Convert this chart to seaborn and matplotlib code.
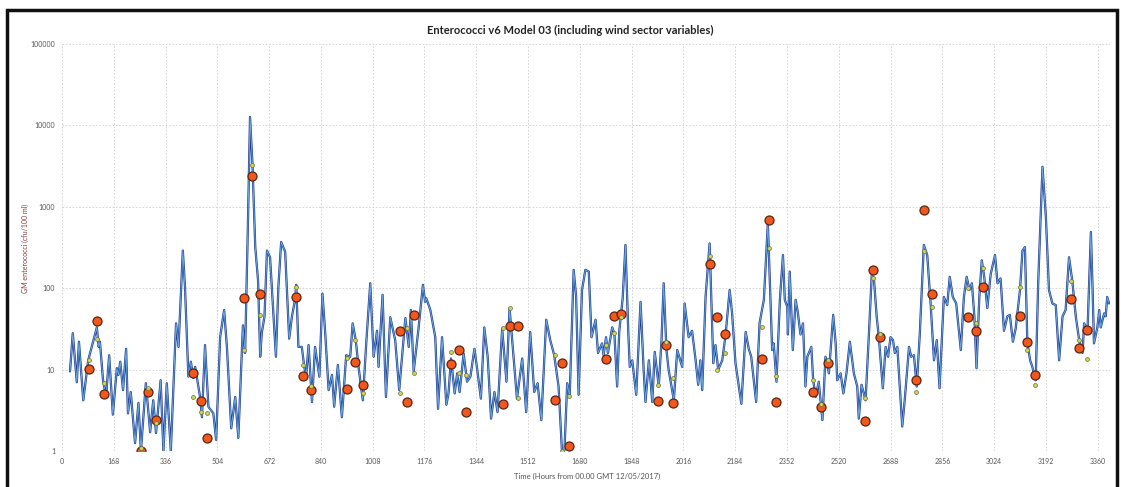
import matplotlib
matplotlib.use("Agg")
import matplotlib.pyplot as plt
from matplotlib.patches import Rectangle
from matplotlib.ticker import NullLocator
import pandas as pd
import seaborn as sns

# modelled GM enterococci (cfu/100 ml) at turning points
hours = [26, 35, 48, 55, 69, 85, 113, 119, 123, 133, 143, 153, 165, 178, 183, 189,
         198, 208, 214, 223, 237, 248, 256, 272, 286, 296, 305, 320, 329, 340, 353,
         370, 378, 392, 399, 410, 418, 426, 432, 448, 454, 464, 475, 491, 500, 513,
         526, 535, 549, 562, 572, 587, 594, 603, 610, 618, 627, 636, 643, 648, 657,
         665, 675, 683, 694, 702, 711, 724, 737, 746, 756, 760, 767, 778, 786, 792,
         800, 811, 821, 835, 845, 854, 865, 876, 883, 895, 908, 922, 935, 943, 953,
         962, 976, 987, 1000, 1011, 1022, 1027, 1040, 1051, 1065, 1081, 1094, 1114,
         1125, 1132, 1141, 1157, 1171, 1178, 1182, 1195, 1211, 1220, 1233, 1247, 1254,
         1262, 1274, 1282, 1290, 1303, 1314, 1325, 1338, 1346, 1359, 1370, 1381, 1392,
         1403, 1413, 1428, 1442, 1452, 1463, 1476, 1493, 1506, 1519, 1532, 1543, 1555,
         1571, 1584, 1597, 1611, 1622, 1630, 1639, 1647, 1660, 1668, 1676, 1687, 1698,
         1709, 1718, 1731, 1739, 1752, 1757, 1765, 1771, 1785, 1792, 1801, 1808, 1819,
         1828, 1837, 1842, 1850, 1863, 1877, 1887, 1893, 1904, 1915, 1923, 1936, 1945,
         1952, 1961, 1968, 1985, 1996, 2006, 2012, 2020, 2033, 2044, 2055, 2064, 2071,
         2077, 2088, 2101, 2113, 2120, 2129, 2142, 2153, 2166, 2174, 2185, 2204, 2218,
         2228, 2236, 2252, 2263, 2277, 2290, 2304, 2309, 2318, 2329, 2339, 2345, 2353,
         2355, 2361, 2371, 2380, 2387, 2396, 2404, 2412, 2418, 2431, 2437, 2445, 2455,
         2467, 2477, 2488, 2502, 2510, 2515, 2526, 2535, 2545, 2556, 2569, 2580, 2585,
         2594, 2607, 2618, 2627, 2634, 2643, 2650, 2663, 2672, 2680, 2688, 2696, 2702,
         2710, 2726, 2734, 2748, 2755, 2764, 2773, 2783, 2796, 2807, 2818, 2829, 2838,
         2847, 2861, 2872, 2880, 2890, 2901, 2916, 2926, 2935, 2944, 2952, 2960, 2967,
         2976, 2984, 2992, 3002, 3013, 3027, 3035, 3045, 3056, 3067, 3075, 3085, 3094,
         3108, 3116, 3124, 3132, 3141, 3148, 3159, 3167, 3181, 3192, 3202, 3213, 3224,
         3235, 3246, 3256, 3267, 3278, 3289, 3300, 3311, 3316, 3327, 3338, 3343, 3348,
         3359, 3365, 3370, 3381, 3386, 3391, 3397]
gm_model = [9.5, 28, 7, 22, 4.2, 13, 33, 19, 22, 7.5, 4.6, 15, 2.8, 10.4, 8.6, 12.5,
            5.6, 18, 2.9, 5.3, 1.25, 3.9, 1.0, 6.8, 1.7, 4.2, 1.66, 7.4, 1.0, 6.8, 1.0,
            37, 19, 290, 104, 8.2, 12.5, 7.9, 10.8, 4.6, 2.6, 20, 3.5, 2.9, 1.37, 25,
            54, 19, 1.9, 4.6, 1.45, 35, 16, 570, 12700, 3300, 320, 125, 14.4, 28, 45,
            290, 240, 72, 14.4, 104, 370, 280, 24, 45, 72, 110, 19, 19, 10.8, 8.2,
            20, 4.0, 19, 8.2, 86, 28, 5.6, 8.6, 3.5, 11.4, 2.6, 15, 14.4, 37, 23,
            10.8, 4.2, 21, 115, 14.4, 30, 10.8, 83, 4.6, 44, 23, 5.6, 43,
            19, 54, 9.5, 33, 110, 68, 75, 54, 25, 3.3, 25, 3.7, 5.1,
            13.7, 5.1, 9, 5.3, 15.8, 7.1, 8.2, 18, 10.8, 4.4, 33, 14.4, 2.5,
            5.3, 3.0, 32, 7.1, 57, 17.4, 4.4, 13.7, 3.0, 29, 5.3, 6.8, 2.4,
            41, 23, 15, 6.2, 1.0, 1.0, 6.8, 4.6, 168, 79, 4.9, 95, 168,
            160, 25, 41, 16, 21, 15, 25, 16, 33, 28, 6.2, 30, 75,
            340, 30, 10.8, 13, 4.9, 68, 10, 4.0, 13, 4.0, 16.5, 6.2, 23,
            115, 17.4, 10, 4.2, 17.4, 13, 10.8, 65, 25, 30, 13.7, 6.5, 13,
            5.6, 79, 355, 12, 20, 10, 13, 27, 95, 49, 12, 3.8, 29,
            18, 14.4, 4.0, 37, 72, 630, 17.4, 21, 7.1, 72, 255, 72, 59,
            27, 160, 17.4, 72, 51, 27, 37, 6.2, 14.4, 19, 7.4, 4.6, 7.1,
            2.4, 14.4, 9, 47, 21, 7.4, 9, 5.1, 9, 22, 9, 6.2, 2.5,
            6.5, 4.2, 28, 145, 132, 45, 25, 5.9, 19, 14.4, 25, 23, 16,
            19, 2.0, 4.2, 19, 14.4, 15, 6.2, 28, 340, 255, 65, 13, 23,
            5.9, 78, 62, 138, 78, 65, 17.4, 78, 138, 95, 115, 45, 10.4,
            78, 220, 138, 57, 150, 255, 115, 132, 30, 45, 47, 22, 32,
            95, 290, 320, 21, 13, 10.8, 7.4, 115, 3100, 750, 95, 65, 62,
            13, 45, 54, 240, 120, 45, 23, 16, 37, 30, 490, 115, 21,
            33, 54, 33, 49, 45, 78, 65]

# sample times with observed and modelled values
sample_hours = [89, 113, 136, 256, 280, 304, 426, 450, 472, 592, 618, 641,
                760, 783, 807, 926, 951, 975, 1095, 1119, 1142, 1262, 1287, 1312,
                1431, 1455, 1478, 1598, 1622, 1646, 1766, 1790, 1814, 1934, 1958, 1983,
                2102, 2126, 2151, 2272, 2293, 2318, 2437, 2461, 2486, 2605, 2631, 2653,
                2772, 2796, 2821, 2940, 2964, 2989, 3108, 3132, 3156, 3275, 3300, 3325]
observed = [10.1, 39, 5.0, 1.0, 5.3, 2.4, 9.2, 4.1, 1.46, 76, 2400, 86,
            78, 8.4, 5.6, 5.8, 12.5, 6.5, 30, 4.0, 47, 11.7, 17.4, 3.0,
            3.8, 34.5, 34, 4.2, 12.2, 1.15, 13.4, 45.5, 47.6, 4.15, 20, 3.9,
            200, 44.5, 27, 13.4, 690, 4.0, 5.3, 3.5, 12, 2.36, 168, 25,
            7.4, 910, 86, 44.5, 30, 102, 45.5, 22, 8.6, 73, 18.6, 30.6]
predicted = [13, 24, 6.8, 1.1, 6, 2.2, 4.6, 3.0, 2.9, 17.4, 3300, 47,
             104, 11.4, 6.2, 14, 23, 5.1, 5.2, 32, 9, 16.5, 9, 8.6,
             32, 57, 4.5, 15, 1.0, 4.8, 20, 28, 44, 6.5, 22, 7.9,
             250, 10, 16, 33, 310, 8.3, 7.4, 3.8, 13, 4.5, 133, 27,
             5.3, 290, 58, 100, 37, 175, 104, 17.4, 6.5, 122, 23, 13.4]

x_ticks = [0, 168, 336, 504, 672, 840, 1008, 1176, 1344, 1512, 1680, 1848, 2016,
           2184, 2352, 2520, 2688, 2856, 3024, 3192, 3360]
x_tick_labels = [str(t) for t in x_ticks]
y_ticks = [1, 10, 100, 1000, 10000, 100000]
y_tick_labels = ["1", "10", "100", "1000", "10000", "100000"]

line_df = pd.DataFrame({"hour": hours, "gm": gm_model})
obs_df = pd.DataFrame({"hour": sample_hours, "obs": observed, "pred": predicted})

sns.set_style("white")
plt.rcParams["font.family"] = ["Lato", "DejaVu Sans"]

fig = plt.figure(figsize=(11.21, 4.87), dpi=100)
ax = fig.add_axes([62 / 1121, 36 / 487, 1048 / 1121, 407 / 487])

# dark outline + lighter inner line, like the scanned Excel series
sns.lineplot(data=line_df, x="hour", y="gm", ax=ax, color="#1d3c8f", lw=1.6,
             estimator=None, sort=False)
sns.lineplot(data=line_df, x="hour", y="gm", ax=ax, color="#6aa6e0", lw=0.7,
             estimator=None, sort=False)
sns.scatterplot(data=obs_df, x="hour", y="obs", ax=ax, s=42, color="#f2581c",
                edgecolor="#5b2410", linewidth=0.9, zorder=5)
sns.scatterplot(data=obs_df, x="hour", y="pred", ax=ax, s=8, color="#cbd94e",
                edgecolor="#6b6b4a", linewidth=0.5, zorder=6)

ax.set_yscale("log")
ax.set_ylim(1, 100000)
ax.set_xlim(0, 3400)
ax.set_yticks(y_ticks)
ax.set_yticklabels(y_tick_labels)
ax.yaxis.set_minor_locator(NullLocator())
ax.set_xticks(x_ticks)
ax.set_xticklabels(x_tick_labels)
ax.tick_params(length=0, labelsize=5, colors="#555555", pad=5)
ax.set_xlabel("")
ax.set_ylabel("")
for sp in ax.spines.values():
    sp.set_visible(False)
ax.grid(True, ls=(0, (2, 2)), color="#cfcfcf", lw=0.6)

fig.text(570 / 1121, 1 - 30 / 487, "Enterococci v6 Model 03 (including wind sector variables)",
         ha="center", va="center", fontsize=8, fontweight="bold", color="#222222")
fig.text(25 / 1121, 1 - 248 / 487, "GM enterococci (cfu/100 ml)", rotation=90,
         ha="center", va="center", fontsize=5, color="#8b3a3a")
fig.text(587 / 1121, 1 - 476 / 487, "Time (Hours from 00.00 GMT 12/05/2017)",
         ha="center", va="center", fontsize=5.5, color="#555555")

# scan border around the chart
fig.patches.append(Rectangle((7 / 1121, -0.02), 1110 / 1121, 1 - 10 / 487 + 0.02,
                             transform=fig.transFigure, fill=False, lw=2.5,
                             edgecolor="#111111"))

fig.savefig("out.png", dpi=100)
